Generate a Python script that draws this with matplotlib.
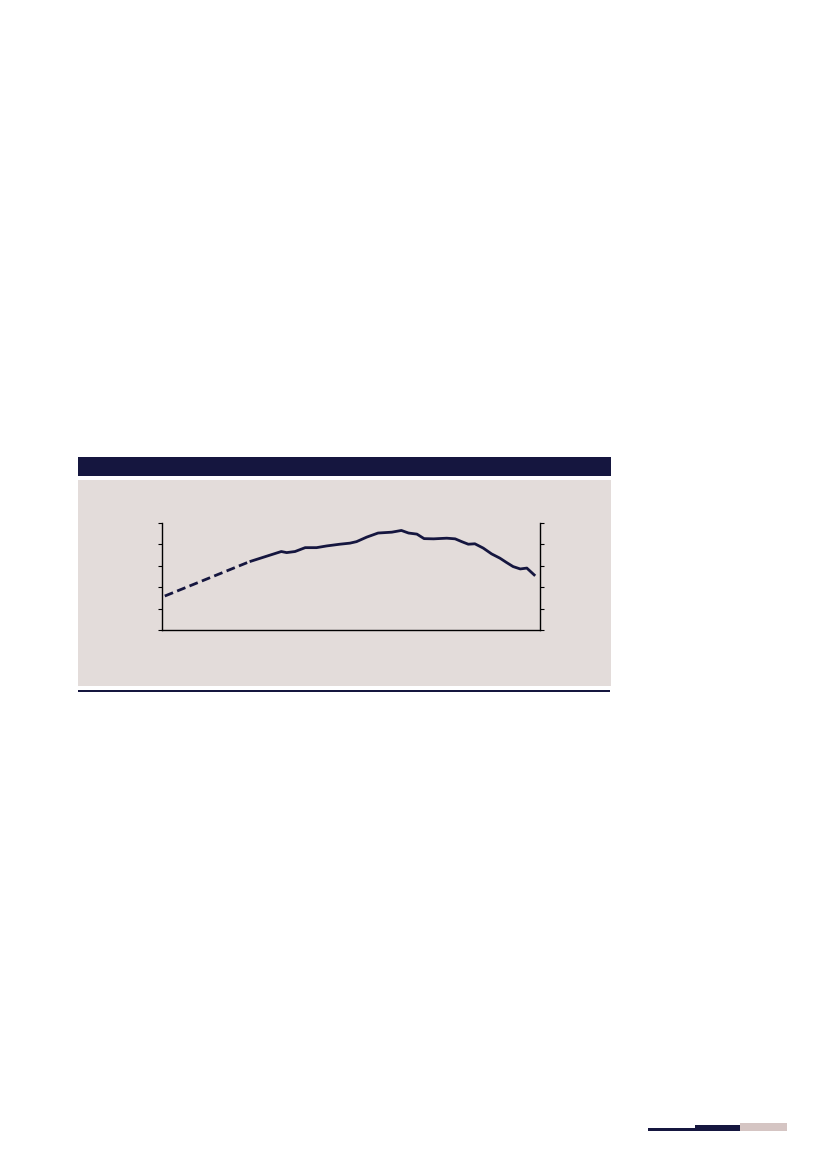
import matplotlib
matplotlib.use("Agg")
import matplotlib.pyplot as plt
from matplotlib.patches import Rectangle

# Data (x in years, y in axis units 0-5)
dashed_x = [1950.0, 1964.2]
dashed_y = [1.58, 3.18]
solid_x = [1964.2, 1969.5, 1970.4, 1971.8, 1973.5, 1975.4, 1977.1, 1979.3, 1981.0,
           1982.1, 1983.8, 1985.7, 1988.0, 1989.6, 1990.8, 1992.2, 1993.4, 1995.0,
           1997.2, 1998.6, 1999.7, 2000.8, 2001.9, 2003.3, 2004.7, 2006.1, 2007.2,
           2008.3, 2009.5, 2010.6, 2012.0]
solid_y = [3.18, 3.65, 3.60, 3.65, 3.83, 3.83, 3.91, 3.99, 4.04,
           4.11, 4.32, 4.51, 4.55, 4.63, 4.51, 4.46, 4.25, 4.24,
           4.27, 4.24, 4.11, 3.99, 4.01, 3.81, 3.54, 3.34, 3.14,
           2.95, 2.84, 2.88, 2.52]
y_ticks = [0, 1, 2, 3, 4, 5]

W, H = 827, 1169
NAVY = "#15163f"
PANEL = "#e3dcda"
PINK = "#d5c5c3"

fig = plt.figure(figsize=(W / 100, H / 100), dpi=100)
fig.patch.set_facecolor("white")

def rect(x0, y0, x1, y1, color):
    fig.patches.append(Rectangle((x0 / W, 1 - y1 / H), (x1 - x0) / W, (y1 - y0) / H,
                                 transform=fig.transFigure, facecolor=color,
                                 edgecolor="none", zorder=-5))

# header bar, panel, bottom rule
rect(78, 457, 611, 476, NAVY)
rect(78, 480, 611, 686, PANEL)
rect(78, 690, 610, 692, NAVY)
# bottom-right decoration
rect(648, 1127.5, 695, 1130.5, NAVY)
rect(695, 1125, 740, 1130.5, NAVY)
rect(740, 1122.5, 787, 1130.5, PINK)

# axes
ax_l, ax_r, ax_t, ax_b = 161.5, 539.5, 522.5, 630
ax = fig.add_axes([ax_l / W, 1 - ax_b / H, (ax_r - ax_l) / W, (ax_b - ax_t) / H])
ax.set_zorder(5)
ax.set_facecolor("none")
ax.set_xlim(1949.45, 2012.72)
ax.set_ylim(0, 5)

ax.plot(dashed_x, dashed_y, color=NAVY, lw=2.0, ls=(0, (3.2, 1.6)), solid_capstyle="butt")
ax.plot(solid_x, solid_y, color=NAVY, lw=2.0, solid_joinstyle="round", solid_capstyle="butt")

ax.spines["top"].set_visible(False)
for s in ["left", "right", "bottom"]:
    ax.spines[s].set_color("black")
    ax.spines[s].set_linewidth(1.0)

ax.set_yticks(y_ticks)
ax.tick_params(axis="y", which="both", left=True, right=True, labelleft=False,
               labelright=False, direction="out", length=3, width=0.8, color="black")
ax.set_xticks([])

fig.savefig("out.png", dpi=100, facecolor="white")
